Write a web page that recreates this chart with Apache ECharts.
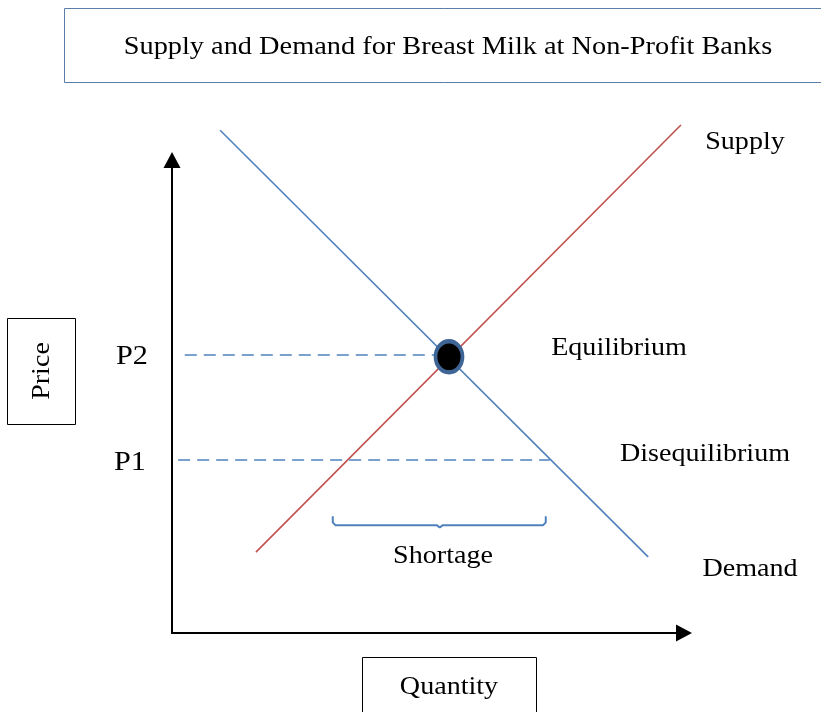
<!DOCTYPE html>
<html>
<head>
<meta charset="utf-8">
<script src="https://cdn.jsdelivr.net/npm/echarts@6/dist/echarts.min.js"></script>
<style>html,body{margin:0;padding:0;background:#fff;}#c{width:821px;height:712px;}</style>
</head>
<body>
<div id="c"></div>
<script>
// Data (quantity, price) in abstract units 0..100
const demand = [[9.4, 106.3], [93.0, 16.1]];
const supply = [[16.4, 17.1], [99.4, 107.4]];
const equilibrium = [[54.1, 58.4]];
const p2Line = [[2.5, 58.8], [52.0, 58.8]];
const p1Line = [[1.2, 36.6], [73.8, 36.6]];
const shortageBrace = [[31.4, 24.7], [31.4, 23.4], [31.9, 22.8], [51.7, 22.8], [52.3, 22.3], [52.9, 22.8], [72.5, 22.8], [73.0, 23.4], [73.0, 24.7]];
const priceLabels = ['P2', 'P1'];

const FONT = '"Liberation Serif", "DejaVu Serif", serif';
const chart = echarts.init(document.getElementById('c'));

function txt(x, y, s, size, sx, rot) {
  return {
    type: 'text', x: x, y: y, rotation: rot || 0, scaleX: sx || 1, z: 20,
    style: { text: s, font: size + 'px ' + FONT, fill: '#000', align: 'center', verticalAlign: 'middle' }
  };
}

chart.setOption({
  animation: false,
  grid: { left: 172, top: 160, width: 512, height: 473 },
  xAxis: {
    type: 'value', min: 0, max: 100,
    axisLine: { show: true, lineStyle: { color: '#000', width: 2 }, symbol: ['none', 'triangle'], symbolSize: [17, 16] },
    axisTick: { show: false }, axisLabel: { show: false }, splitLine: { show: false }
  },
  yAxis: {
    type: 'value', min: 0, max: 100,
    axisLine: { show: true, lineStyle: { color: '#000', width: 2 }, symbol: ['none', 'triangle'], symbolSize: [17, 16] },
    axisTick: { show: false }, axisLabel: { show: false }, splitLine: { show: false }
  },
  series: [
    { type: 'line', data: demand, clip: false, showSymbol: false, symbol: 'none', lineStyle: { color: '#4f81bd', width: 1.6 } },
    { type: 'line', data: supply, clip: false, showSymbol: false, symbol: 'none', lineStyle: { color: '#c0504d', width: 1.6 } },
    { type: 'line', data: p2Line, clip: false, symbol: 'none', lineStyle: { color: '#4f81bd', width: 1.5, type: [12, 7] } },
    { type: 'line', data: p1Line, clip: false, symbol: 'none', lineStyle: { color: '#4f81bd', width: 1.5, type: [12, 7] } },
    { type: 'line', data: shortageBrace, clip: false, symbol: 'none', lineStyle: { color: '#4f81bd', width: 2 } },
    { type: 'scatter', data: equilibrium, clip: false, symbol: 'circle', symbolSize: [27, 31], z: 10,
      itemStyle: { color: '#000', borderColor: '#3f6596', borderWidth: 4, opacity: 1 } }
  ],
  graphic: [
    { type: 'rect', shape: { x: 64.5, y: 8.5, width: 800, height: 74 }, style: { fill: 'none', stroke: '#5b7ea9', lineWidth: 1 } },
    txt(448, 47, 'Supply and Demand for Breast Milk at Non-Profit Banks', 26, 1.09),
    { type: 'rect', shape: { x: 7.5, y: 318.5, width: 68, height: 106 }, style: { fill: 'none', stroke: '#000', lineWidth: 1 } },
    txt(42, 371, 'Price', 26, 1.08, Math.PI / 2),
    { type: 'rect', shape: { x: 362.5, y: 657.5, width: 174, height: 80 }, style: { fill: 'none', stroke: '#000', lineWidth: 1 } },
    txt(449, 687, 'Quantity', 26, 1.08),
    txt(132, 357, priceLabels[0], 28, 1.08),
    txt(130, 463, priceLabels[1], 28, 1.08),
    txt(745, 142, 'Supply', 26, 1.08),
    txt(619, 348, 'Equilibrium', 26, 1.08),
    txt(705, 454, 'Disequilibrium', 26, 1.08),
    txt(750, 569, 'Demand', 26, 1.08),
    txt(443, 556, 'Shortage', 26, 1.08)
  ]
});
</script>
</body>
</html>
